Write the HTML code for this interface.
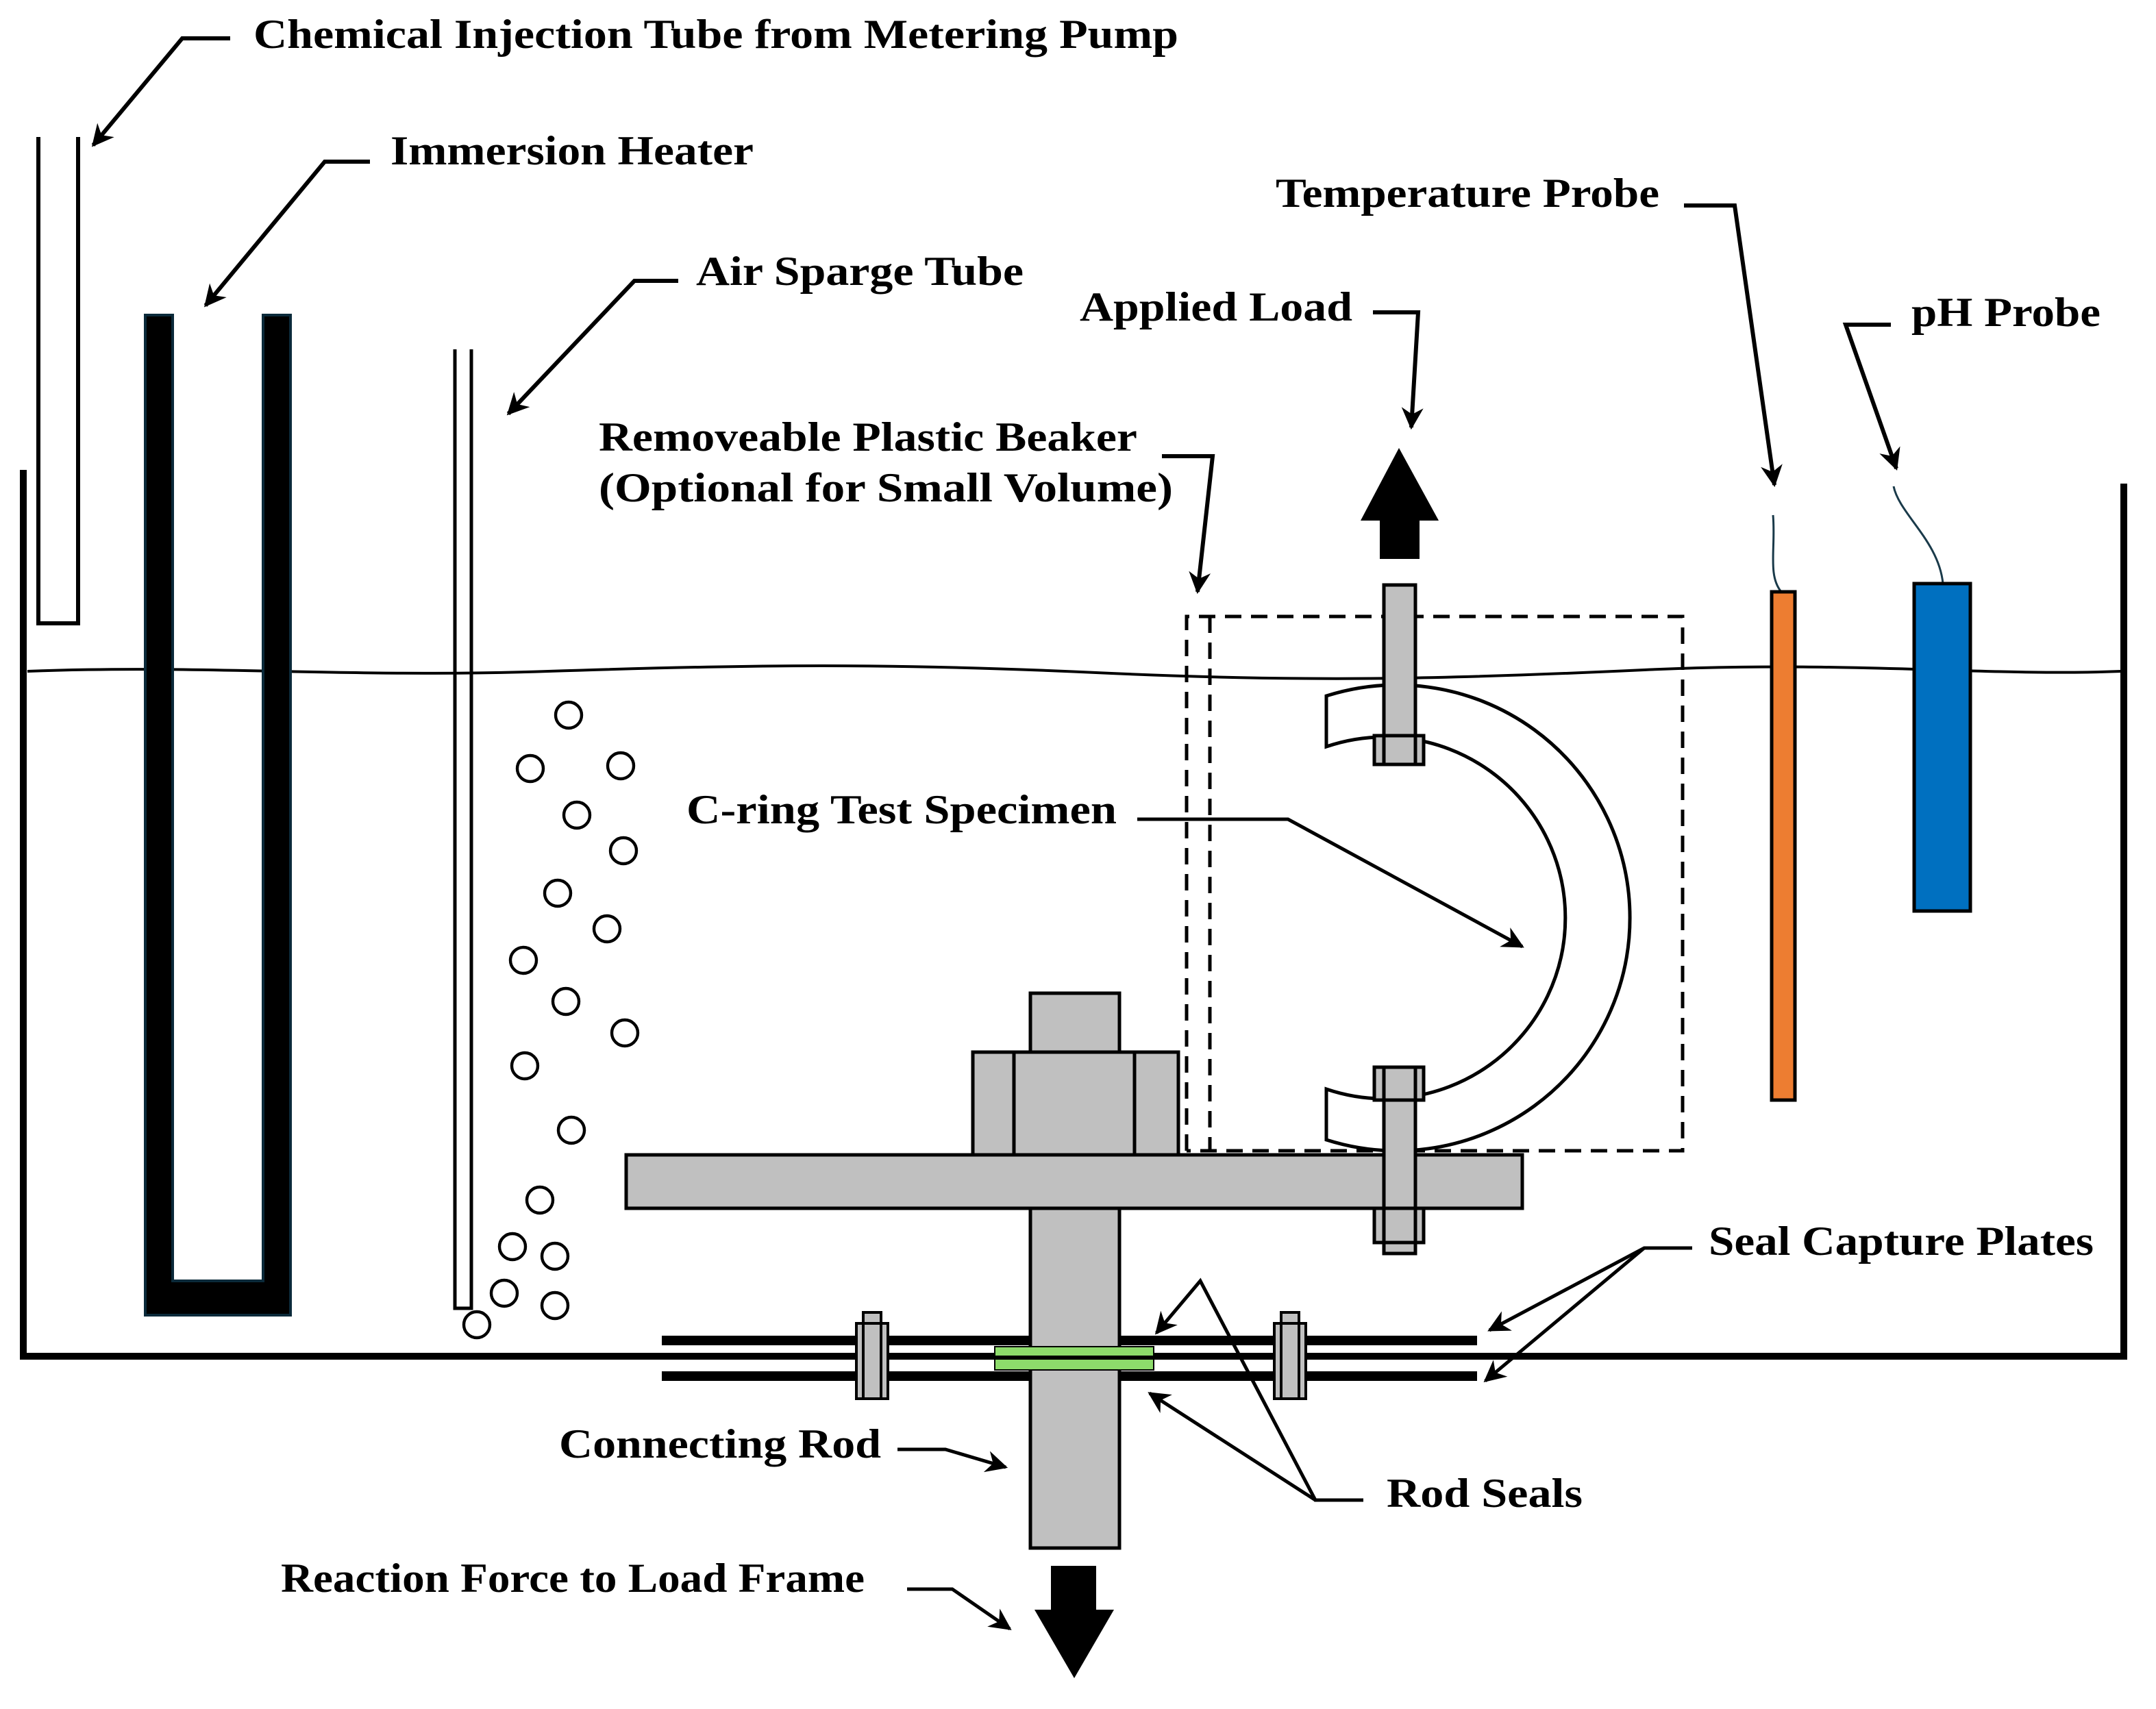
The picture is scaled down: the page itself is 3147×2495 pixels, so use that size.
<!DOCTYPE html>
<html><head><meta charset="utf-8"><style>html,body{margin:0;padding:0;background:#fff}svg{display:block}text{font-family:"Liberation Serif",serif;font-weight:bold;font-size:30px;fill:#000}</style></head>
<body>
<svg width="3147" height="2495" viewBox="0 0 1573.5 1247.5" xmlns="http://www.w3.org/2000/svg">
<defs><marker id="a" viewBox="0 0 10 10" refX="9" refY="5" markerWidth="20" markerHeight="16" orient="auto" markerUnits="userSpaceOnUse"><path d="M0,0L10,5L0,10L3,5Z" fill="#000"/></marker></defs>
<rect width="1573.5" height="1247.5" fill="#fff"/>
<!-- tank -->
<path d="M17,343V990H1550V353" fill="none" stroke="#000" stroke-width="5"/>
<path d="M20,490 C150,485 250,495 400,490 S650,484 800,491 S1050,496 1200,489 S1450,494 1548,490" fill="none" stroke="#000" stroke-width="2"/>
<!-- chemical tube -->
<path d="M28,100V455H57V100" fill="none" stroke="#000" stroke-width="3"/>
<!-- heater -->
<path d="M106,230H126V935H192V230H212V960H106Z" fill="#000" stroke="#0b2a3a" stroke-width="2"/>
<!-- sparge -->
<path d="M332,255V955H344V255" fill="none" stroke="#000" stroke-width="2.5"/>
<!-- bubbles -->
<g fill="none" stroke="#000" stroke-width="2.2">
<circle cx="415" cy="522" r="9.5"/><circle cx="387" cy="561" r="9.5"/><circle cx="453" cy="559" r="9.5"/><circle cx="421" cy="595" r="9.5"/><circle cx="455" cy="621" r="9.5"/><circle cx="407" cy="652" r="9.5"/><circle cx="443" cy="678" r="9.5"/><circle cx="382" cy="701" r="9.5"/><circle cx="413" cy="731" r="9.5"/><circle cx="456" cy="754" r="9.5"/><circle cx="383" cy="778" r="9.5"/><circle cx="417" cy="825" r="9.5"/><circle cx="394" cy="876" r="9.5"/><circle cx="374" cy="910" r="9.5"/><circle cx="405" cy="917" r="9.5"/><circle cx="368" cy="944" r="9.5"/><circle cx="405" cy="953" r="9.5"/><circle cx="348" cy="967" r="9.5"/>
</g>
<!-- seal plates -->
<rect x="483" y="975" width="595" height="7" fill="#000"/>
<rect x="483" y="1001" width="595" height="7" fill="#000"/>
<!-- rod -->
<g stroke="#000" stroke-width="2.5" fill="#c0c0c0">
<rect x="752" y="725" width="65" height="405"/>
<rect x="710" y="768" width="150" height="75"/>
<line x1="740" y1="768" x2="740" y2="843"/><line x1="828" y1="768" x2="828" y2="843"/>
<rect x="457" y="843" width="654" height="39"/>
</g>
<rect x="726" y="983" width="116" height="17" fill="#8ddb6b" stroke="#000" stroke-width="1"/>
<line x1="726" y1="991" x2="842" y2="991" stroke="#000" stroke-width="3"/>
<!-- small bolts -->
<g stroke="#000" stroke-width="2" fill="#c0c0c0">
<rect x="630" y="958" width="13" height="10"/><rect x="625" y="966" width="23" height="55"/><rect x="630" y="966" width="13" height="55"/>
<rect x="935" y="958" width="13" height="10"/><rect x="930" y="966" width="23" height="55"/><rect x="935" y="966" width="13" height="55"/>
</g>
<!-- beaker dashed -->
<g fill="none" stroke="#000" stroke-width="2.5" stroke-dasharray="12,7">
<path d="M866,840V450H1228V840H866"/><path d="M883,450V840"/>
</g>
<!-- C-ring -->
<path d="M968,508 A170,170 0 1 1 968,832 L968,795 A132,132 0 1 0 968,545 Z" fill="#fff" stroke="#000" stroke-width="2.5"/>
<!-- bolts -->
<g stroke="#000" stroke-width="2.5" fill="#c0c0c0">
<rect x="1010" y="427" width="23" height="131"/><rect x="1003" y="537" width="36" height="21"/><rect x="1010" y="537" width="23" height="21"/>
<rect x="1010" y="779" width="23" height="136"/><rect x="1003" y="779" width="36" height="24"/><rect x="1010" y="779" width="23" height="24"/>
<rect x="1003" y="882" width="36" height="25"/><rect x="1010" y="882" width="23" height="25"/><rect x="1010" y="907" width="23" height="8"/>
</g>
<!-- load arrows -->
<path d="M993,380L1021,327L1050,380H1036V408H1007V380Z" fill="#000"/>
<path d="M767,1143H800V1175H813L784,1225L755,1175H767Z" fill="#000"/>
<!-- probes -->
<path d="M1294,376C1296,400 1290,420 1300,432" fill="none" stroke="#1a3a4a" stroke-width="1.5"/>
<rect x="1293" y="432" width="17" height="371" fill="#ed7d31" stroke="#000" stroke-width="2.5"/>
<path d="M1382,355C1386,375 1415,395 1418,426" fill="none" stroke="#1a3a4a" stroke-width="1.5"/>
<rect x="1397" y="426" width="41" height="239" fill="#0070c0" stroke="#000" stroke-width="2.5"/>
<!-- leaders -->
<g fill="none" stroke="#000" stroke-width="2.5" marker-end="url(#a)">
<path d="M168,28H133L68,106" stroke-width="3"/>
<path d="M270,118H237L150,223" stroke-width="3"/>
<path d="M495,205H463L371,302" stroke-width="3"/>
<path d="M1229,150H1266L1295,354" stroke-width="3"/>
<path d="M1002,228H1035L1030,312" stroke-width="3"/>
<path d="M1380,237H1347L1384,342" stroke-width="3"/>
<path d="M848,333H885L874,432" stroke-width="3"/>
<path d="M830,598H940L1111,691"/>
<path d="M1235,911H1200L1087,971"/>
<path d="M1200,911L1084,1008"/>
<path d="M655,1058H690L734,1071"/>
<path d="M995,1095H960L876,935L844,973"/>
<path d="M960,1095L839,1017"/>
<path d="M662,1160H695L737,1189"/>
</g>
<!-- labels -->
<text x="185" y="35" textLength="675" lengthAdjust="spacingAndGlyphs">Chemical Injection Tube from Metering Pump</text>
<text x="285" y="120" textLength="265" lengthAdjust="spacingAndGlyphs">Immersion Heater</text>
<text x="508" y="208" textLength="239" lengthAdjust="spacingAndGlyphs">Air Sparge Tube</text>
<text x="931" y="151" textLength="280" lengthAdjust="spacingAndGlyphs">Temperature Probe</text>
<text x="788" y="234" textLength="199" lengthAdjust="spacingAndGlyphs">Applied Load</text>
<text x="1395" y="238" textLength="138" lengthAdjust="spacingAndGlyphs">pH Probe</text>
<text x="437" y="329" textLength="393" lengthAdjust="spacingAndGlyphs">Removeable Plastic Beaker</text>
<text x="437" y="366" textLength="419" lengthAdjust="spacingAndGlyphs">(Optional for Small Volume)</text>
<text x="501" y="601" textLength="314" lengthAdjust="spacingAndGlyphs">C-ring Test Specimen</text>
<text x="1247" y="916" textLength="281" lengthAdjust="spacingAndGlyphs">Seal Capture Plates</text>
<text x="408" y="1064" textLength="235" lengthAdjust="spacingAndGlyphs">Connecting Rod</text>
<text x="1012" y="1100" textLength="143" lengthAdjust="spacingAndGlyphs">Rod Seals</text>
<text x="205" y="1162" textLength="426" lengthAdjust="spacingAndGlyphs">Reaction Force to Load Frame</text>
</svg>
</body></html>
